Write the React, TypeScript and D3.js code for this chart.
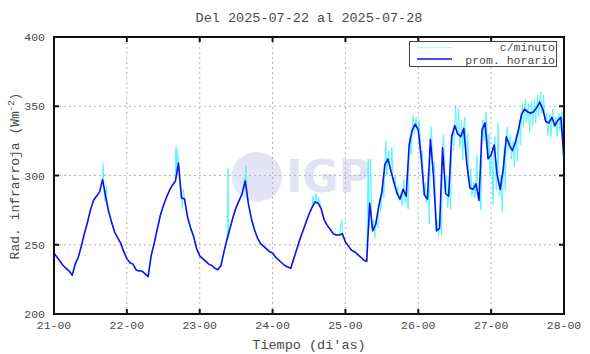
import { useRef, useEffect } from "react";
import * as d3 from "d3";

// etiquetas de dias (eje x) y ticks del eje y
const dayLabels = ["21-00", "22-00", "23-00", "24-00", "25-00", "26-00", "27-00", "28-00"];
const yTicks = [200, 250, 300, 350, 400];

// promedio horario (W/m2), una muestra por hora desde 21-00
const hourly = [
  244, 241, 238, 235, 233, 231, 228, 236, 241, 249, 258, 266, 275, 282, 285, 288, 297, 285, 274, 266, 259, 255, 251, 245,
  240, 237, 236, 232, 231, 231, 229, 227, 242, 251, 261, 271, 278, 284, 289, 293, 296, 309, 284, 283, 270, 262, 256, 247,
  242, 240, 238, 236, 235, 233, 232, 235, 245, 254, 262, 270, 277, 282, 287, 296, 280, 269, 261, 255, 251, 249, 247, 245,
  244, 241, 239, 237, 235, 234, 233, 240, 247, 254, 260, 266, 272, 277, 281, 280, 276, 268, 264, 261, 258, 257, 257, 258,
  252, 249, 246, 245, 243, 241, 239, 238, 280, 260, 265, 278, 288, 308, 312, 303, 295, 287, 283, 290, 285, 322, 333, 337,
  333, 312, 286, 283, 326, 300, 260, 262, 320, 287, 285, 328, 336, 330, 328, 334, 308, 291, 290, 294, 282, 333, 338, 312,
  315, 322, 300, 290, 305, 328, 322, 318, 324, 333, 344, 348, 346, 345, 346, 349, 353, 348, 339, 338, 342, 336, 340, 342,
  311,
];

// picos visibles de la serie por minuto [hora, valor]
const minuteSpikes: [number, number][] = [
  [16.2, 308], [16.5, 290], [16.8, 281], [17.2, 292], [17.5, 279],
  [40.0, 312], [40.2, 321], [40.5, 300], [40.7, 318], [41.3, 296], [42.3, 276], [42.6, 290],
  [57.35, 305], [57.45, 255],
  [62.8, 298], [63.2, 307], [63.5, 292],
  [85.3, 285], [85.8, 279], [86.3, 287], [86.7, 280], [87.2, 284],
  [94.8, 268], [95.0, 256],
  [103.5, 312], [103.8, 262],
];

// rango por minuto (max / min) de cada hora desde la hora 104
const minuteStart = 104;
const minuteHi = [
  312, 268, 270, 283, 295, 325, 318, 320, 300, 292, 287, 297, 290, 328, 343, 342,
  340, 318, 295, 290, 335, 310, 268, 270, 330, 300, 295, 332, 351, 348, 340, 342,
  330, 305, 295, 315, 290, 340, 346, 330, 312, 328, 338, 300, 320, 335, 330, 325,
  330, 340, 352, 355, 352, 354, 355, 358, 360, 358, 345, 344, 348, 342, 345, 346,
];
const minuteLo = [
  262, 255, 262, 274, 284, 300, 305, 295, 290, 282, 278, 280, 276, 315, 330, 333,
  328, 300, 280, 265, 315, 285, 256, 257, 310, 277, 276, 318, 330, 320, 311, 325,
  300, 285, 284, 288, 275, 325, 332, 300, 279, 290, 285, 274, 290, 318, 312, 306,
  310, 322, 335, 338, 331, 336, 338, 342, 345, 340, 329, 328, 335, 328, 332, 318,
];

const W = 590;
const H = 354;
const margin = { top: 37, right: 26, bottom: 40, left: 54 };
const FONT = "'Liberation Mono', 'DejaVu Sans Mono', monospace";
const TXT = "#4a4a4a";

export default function App() {
  const svgRef = useRef(null);

  useEffect(() => {
    const svg = d3.select(svgRef.current);
    svg.selectAll("*").remove();

    const x = d3.scaleLinear()
      .domain([0, 168])
      .range([margin.left, W - margin.right]);
    const y = d3.scaleLinear()
      .domain([200, 400])
      .range([H - margin.bottom, margin.top]);

    // marca de agua IGP
    const wm = svg.append("g");
    wm.append("circle")
      .attr("cx", 257).attr("cy", 177).attr("r", 25)
      .attr("fill", "#e4e4f6");
    wm.append("path")
      .attr("d", "M240,158 A25,25 0 0,0 262,201 A30,30 0 0,1 240,158 Z")
      .attr("fill", "#dfeafb");
    [10, 16, 22].forEach((r) => {
      wm.append("path")
        .attr("d", `M${257 + r},${152} A${r + 8},${r + 8} 0 0,1 ${257 + r * 0.6},${201}`)
        .attr("fill", "none")
        .attr("stroke", "#ffffff")
        .attr("stroke-width", 1.6);
    });
    wm.append("text")
      .attr("x", 286).attr("y", 192)
      .attr("font-family", "'DejaVu Sans', sans-serif")
      .attr("font-weight", "bold")
      .attr("font-size", 44)
      .attr("fill", "#e2e2f5")
      .text("IGP");

    // grilla punteada
    const grid = svg.append("g")
      .attr("stroke", "#b4b4b4")
      .attr("stroke-width", 1)
      .attr("stroke-dasharray", "2,3");
    grid.selectAll("line.v")
      .data(d3.range(1, 7))
      .join("line")
      .attr("x1", (d) => x(d * 24)).attr("x2", (d) => x(d * 24))
      .attr("y1", margin.top).attr("y2", H - margin.bottom);
    grid.selectAll("line.h")
      .data(yTicks.slice(1, -1))
      .join("line")
      .attr("x1", margin.left).attr("x2", W - margin.right)
      .attr("y1", (d) => y(d)).attr("y2", (d) => y(d));

    // serie por minuto (cyan)
    const cyanPts: [number, number][] = hourly.map((v, i) => [i, v] as [number, number]);
    minuteSpikes.forEach((p) => cyanPts.push(p));
    minuteHi.forEach((v, i) => {
      cyanPts.push([minuteStart + i + 0.3, v]);
      cyanPts.push([minuteStart + i + 0.65, minuteLo[i]]);
    });
    cyanPts.sort((a, b) => a[0] - b[0]);

    const line = d3.line<[number, number]>()
      .x((d) => x(d[0]))
      .y((d) => y(d[1]));

    svg.append("path")
      .datum(cyanPts)
      .attr("fill", "none")
      .attr("stroke", "#55f6fa")
      .attr("stroke-width", 1)
      .attr("d", line);

    svg.append("path")
      .datum(hourly.map((v, i) => [i, v] as [number, number]))
      .attr("fill", "none")
      .attr("stroke", "#0a14f0")
      .attr("stroke-width", 1.6)
      .attr("stroke-linejoin", "round")
      .attr("d", line);

    // marco y ticks
    const frame = svg.append("g").attr("stroke", "#111").attr("stroke-width", 2);
    frame.append("rect")
      .attr("x", margin.left).attr("y", margin.top)
      .attr("width", W - margin.left - margin.right)
      .attr("height", H - margin.top - margin.bottom)
      .attr("fill", "none");
    d3.range(0, 8).forEach((d) => {
      frame.append("line")
        .attr("x1", x(d * 24)).attr("x2", x(d * 24))
        .attr("y1", H - margin.bottom).attr("y2", H - margin.bottom - 5);
      frame.append("line")
        .attr("x1", x(d * 24)).attr("x2", x(d * 24))
        .attr("y1", margin.top).attr("y2", margin.top + 5);
    });
    yTicks.forEach((t) => {
      frame.append("line")
        .attr("x1", margin.left).attr("x2", margin.left + 5)
        .attr("y1", y(t)).attr("y2", y(t));
      frame.append("line")
        .attr("x1", W - margin.right).attr("x2", W - margin.right - 5)
        .attr("y1", y(t)).attr("y2", y(t));
    });

    const txt = svg.append("g")
      .attr("font-family", FONT)
      .attr("fill", TXT);

    txt.selectAll("text.xt")
      .data(dayLabels)
      .join("text")
      .attr("x", (d, i) => x(i * 24))
      .attr("y", 329)
      .attr("text-anchor", "middle")
      .attr("font-size", 11.5)
      .text((d) => d);

    txt.selectAll("text.yt")
      .data(yTicks)
      .join("text")
      .attr("class", "yt")
      .attr("x", 45)
      .attr("y", (d) => y(d))
      .attr("dy", "0.35em")
      .attr("text-anchor", "end")
      .attr("font-size", 11.5)
      .text((d) => d);

    svg.append("text")
      .attr("x", 309).attr("y", 22)
      .attr("text-anchor", "middle")
      .attr("font-family", FONT)
      .attr("font-size", 13.5)
      .attr("fill", TXT)
      .text("Del 2025-07-22 al 2025-07-28");

    svg.append("text")
      .attr("x", 309).attr("y", 349)
      .attr("text-anchor", "middle")
      .attr("font-family", FONT)
      .attr("font-size", 13.5)
      .attr("fill", TXT)
      .text("Tiempo (di'as)");

    const yl = svg.append("text")
      .attr("transform", "translate(19,176) rotate(-90)")
      .attr("text-anchor", "middle")
      .attr("font-family", FONT)
      .attr("font-size", 13)
      .attr("fill", TXT);
    yl.append("tspan").text("Rad. infrarroja (Wm");
    yl.append("tspan").attr("dy", -5).attr("font-size", 9).text("-2");
    yl.append("tspan").attr("dy", 5).text(")");

    // leyenda
    const lg = svg.append("g");
    lg.append("rect")
      .attr("x", 409.5).attr("y", 41.5).attr("width", 147).attr("height", 25)
      .attr("fill", "#fff").attr("stroke", "#444").attr("stroke-width", 1);
    lg.append("line")
      .attr("x1", 417).attr("x2", 452).attr("y1", 47.5).attr("y2", 47.5)
      .attr("stroke", "#b8f8fa").attr("stroke-width", 1.2);
    lg.append("line")
      .attr("x1", 417).attr("x2", 452).attr("y1", 59).attr("y2", 59)
      .attr("stroke", "#0a14f0").attr("stroke-width", 1.4);
    lg.append("text")
      .attr("x", 555).attr("y", 51)
      .attr("text-anchor", "end")
      .attr("font-family", FONT).attr("font-size", 11.5)
      .attr("fill", TXT)
      .text("c/minuto");
    lg.append("text")
      .attr("x", 555).attr("y", 63.5)
      .attr("text-anchor", "end")
      .attr("font-family", FONT).attr("font-size", 11.5)
      .attr("fill", TXT)
      .text("prom. horario");
  }, []);

  return (
    <div style={{ position: "absolute", left: 0, top: 0, background: "#fff" }}>
      <svg ref={svgRef} width={W} height={H} style={{ display: "block" }}></svg>
    </div>
  );
}
